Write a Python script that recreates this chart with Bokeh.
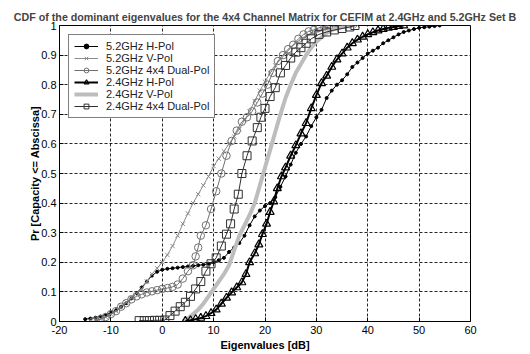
from bokeh.plotting import figure
from bokeh.embed import file_html
from bokeh.resources import INLINE
from bokeh.models import FixedTicker, Legend, LegendItem

# ---- data ----
h52_x = [-15, -14, -13, -12, -11, -10, -9, -8, -7, -6, -5, -4, -3, -2, -1, 0, 1, 2, 3, 4, 5, 6, 7, 8, 9, 10,
         11, 12, 13, 14, 15, 16, 17, 18, 19, 20, 21, 22, 23, 24, 25, 26, 27, 28, 29, 30, 31, 32, 33, 34, 35,
         36, 37, 38, 39, 40, 41, 42, 43, 44, 45, 46, 47, 48, 49, 50, 51, 52, 53, 54]
h52_y = [0.008, 0.01, 0.013, 0.017, 0.022, 0.03, 0.038, 0.05, 0.062, 0.078, 0.095, 0.115, 0.135, 0.155, 0.168,
         0.175, 0.178, 0.18, 0.182, 0.184, 0.186, 0.188, 0.19, 0.192, 0.195, 0.2, 0.207, 0.215, 0.235, 0.25,
         0.265, 0.29, 0.325, 0.355, 0.375, 0.39, 0.4, 0.42, 0.455, 0.49, 0.53, 0.57, 0.6, 0.625, 0.66, 0.69,
         0.715, 0.755, 0.78, 0.8, 0.815, 0.835, 0.86, 0.875, 0.89, 0.905, 0.915, 0.925, 0.94, 0.95, 0.96,
         0.97, 0.978, 0.983, 0.988, 0.992, 0.994, 0.996, 0.998, 1.0]

v52_x = [-13, -12, -11, -10, -9, -8, -7, -6, -5, -4, -3, -2, -1, 0, 1, 2, 3, 4, 5, 6, 7, 8, 9, 10, 11, 12,
         13, 14, 15, 16, 17, 18, 19, 20, 21, 22, 23, 24, 25, 26, 27, 28, 29, 30, 32, 34, 36, 38]
v52_y = [0.003, 0.008, 0.015, 0.025, 0.035, 0.05, 0.065, 0.08, 0.095, 0.11, 0.135, 0.16, 0.18, 0.2, 0.225,
         0.255, 0.29, 0.33, 0.365, 0.4, 0.43, 0.46, 0.49, 0.525, 0.55, 0.575, 0.6, 0.625, 0.65, 0.68, 0.71,
         0.745, 0.78, 0.81, 0.84, 0.865, 0.885, 0.905, 0.925, 0.94, 0.955, 0.965, 0.975, 0.982, 0.988,
         0.993, 0.997, 1.0]

d52_x = [-13.5, -13, -12, -11, -10, -9, -8, -7, -6, -5, -4, -3, -2, -1, 0, 1, 2, 3, 4, 5, 6, 6.5, 7, 7.5,
         8.5, 9.5, 10.5, 11.5, 12.5, 13.5, 14.5, 15.5, 16.5, 17.5, 18.5, 19.5, 20.5, 21.5, 22.5, 23.5,
         24.5, 25.5, 26.5, 27.5, 28.5, 29.5, 30.5, 31.5, 32.5]
d52_y = [0.0, 0.003, 0.008, 0.015, 0.025, 0.035, 0.05, 0.062, 0.075, 0.085, 0.092, 0.098, 0.102, 0.106,
         0.11, 0.113, 0.117, 0.125, 0.145, 0.17, 0.19, 0.22, 0.25, 0.29, 0.325, 0.38, 0.44, 0.5, 0.56,
         0.61, 0.645, 0.675, 0.69, 0.71, 0.74, 0.77, 0.8, 0.84, 0.88, 0.9, 0.92, 0.935, 0.955, 0.97,
         0.98, 0.985, 0.992, 0.997, 1.0]

h24_x = [4.5, 5.5, 6.5, 7.5, 8.5, 9.5, 10.5, 11.5, 12.5, 13.5, 14.5, 15.5, 16.3, 17, 18, 18.8, 19.5, 20.3,
         21, 21.7, 22.4, 23.2, 24, 25, 26, 27, 28, 29, 30, 31, 32, 33, 34, 35, 36, 37, 38, 39, 40, 41, 42,
         43, 44, 45, 46, 47]
h24_y = [0.002, 0.004, 0.008, 0.012, 0.018, 0.028, 0.04, 0.06, 0.08, 0.098, 0.115, 0.132, 0.16, 0.2, 0.23,
         0.26, 0.295, 0.33, 0.37, 0.405, 0.45, 0.49, 0.52, 0.56, 0.595, 0.635, 0.67, 0.72, 0.765, 0.805,
         0.83, 0.86, 0.885, 0.905, 0.925, 0.94, 0.952, 0.962, 0.97, 0.977, 0.983, 0.988, 0.992, 0.995,
         0.998, 1.0]

v24_x = [4, 5, 6, 7, 8, 9, 10, 11, 12, 13, 14, 15, 16, 17, 18, 19, 20, 21, 22, 23, 24, 25, 26, 27, 28, 29,
         30, 31, 32, 33, 34, 35, 37]
v24_y = [0.0, 0.01, 0.025, 0.04, 0.06, 0.085, 0.11, 0.135, 0.16, 0.19, 0.24, 0.29, 0.325, 0.36, 0.4, 0.46,
         0.52, 0.58, 0.64, 0.7, 0.755, 0.8, 0.84, 0.87, 0.9, 0.925, 0.945, 0.96, 0.975, 0.985, 0.99,
         0.995, 1.0]

d24_x = [-4.5, -3.5, -2.5, -1.5, -0.5, 0.5, 1.5, 2.5, 3.5, 4.5, 5.5, 6.5, 7.5, 8.5, 9.5, 10.5, 11.5, 12.5,
         13.3, 14, 14.8, 15.5, 16.5, 17.5, 18.5, 19.2, 20, 21, 22, 23, 24, 25, 26, 27, 28, 29, 30.5, 32,
         33.5, 35, 36.5, 37.5]
d24_y = [0.003, 0.003, 0.003, 0.004, 0.004, 0.005, 0.02, 0.035, 0.05, 0.065, 0.085, 0.11, 0.135, 0.17,
         0.195, 0.215, 0.255, 0.295, 0.33, 0.38, 0.43, 0.5, 0.56, 0.61, 0.655, 0.69, 0.72, 0.76, 0.79,
         0.84, 0.865, 0.89, 0.91, 0.925, 0.94, 0.955, 0.97, 0.978, 0.985, 0.99, 0.995, 1.0]

x_ticks = [-20, -10, 0, 10, 20, 30, 40, 50, 60]
x_tick_labels = ["-20", "-10", "0", "10", "20", "30", "40", "50", "60"]
y_ticks = [0, 0.1, 0.2, 0.3, 0.4, 0.5, 0.6, 0.7, 0.8, 0.9, 1]
y_tick_labels = ["0", "0.1", "0.2", "0.3", "0.4", "0.5", "0.6", "0.7", "0.8", "0.9", "1"]

FONT = "Liberation Sans"

p = figure(width=530, height=354, output_backend="svg", toolbar_location=None,
           x_range=(-20, 60), y_range=(0, 1),
           min_border_left=59, min_border_right=60, min_border_top=25, min_border_bottom=33)

p.title.text = "CDF of the dominant eigenvalues for the 4x4 Channel Matrix for CEFIM at 2.4GHz and 5.2GHz Set B"
p.title.text_font = FONT
p.title.text_font_size = "10.7px"
p.title.text_font_style = "bold"
p.title.align = "center"
p.title.standoff = 6
p.title.offset = 0

p.background_fill_color = "white"
p.border_fill_color = "white"
p.outline_line_color = "black"
p.outline_line_width = 1
p.outline_line_alpha = 1

for ax in (p.xaxis[0], p.yaxis[0]):
    ax.axis_line_color = "black"
    ax.major_tick_line_color = "black"
    ax.major_tick_in = 4
    ax.major_tick_out = 0
    ax.minor_tick_line_color = None
    ax.major_label_text_font = FONT
    ax.major_label_text_font_size = "11px"
    ax.major_label_text_color = "black"
    ax.axis_label_text_font = FONT
    ax.axis_label_text_font_size = "11px"
    ax.axis_label_text_font_style = "bold"
    ax.axis_label_text_color = "black"

p.xaxis.ticker = FixedTicker(ticks=x_ticks)
p.yaxis.ticker = FixedTicker(ticks=y_ticks)
p.xaxis.major_label_overrides = {t: l for t, l in zip(x_ticks, x_tick_labels)}
p.yaxis.major_label_overrides = {t: l for t, l in zip(y_ticks, y_tick_labels)}
p.xaxis.axis_label = "Eigenvalues [dB]"
p.yaxis.axis_label = "Pr [Capacity <= Abscissa]"
p.xaxis.major_label_standoff = 4
p.yaxis.major_label_standoff = 3
p.xaxis.axis_label_standoff = 2
p.yaxis.axis_label_standoff = -3

for g in (p.xgrid[0], p.ygrid[0]):
    g.grid_line_color = "black"
    g.grid_line_dash = "3 2"
    g.grid_line_width = 1
    g.grid_line_alpha = 0.85

# --- series ---
r1l = p.line(h52_x, h52_y, line_color="black", line_width=1)
r1m = p.scatter(h52_x, h52_y, marker="circle", size=3, fill_color="black", line_color="black")

r2l = p.line(v52_x, v52_y, line_color="#8c8c8c", line_width=1)
r2m = p.scatter(v52_x, v52_y, marker="x", size=6, line_color="#8c8c8c", line_width=1)

r3l = p.line(d52_x, d52_y, line_color="#707070", line_width=1)
r3m = p.scatter(d52_x, d52_y, marker="circle", size=7.5, fill_color=None, line_color="#707070", line_width=1)

r5l = p.line(v24_x, v24_y, line_color="#bdbdbd", line_width=4)

r4l = p.line(h24_x, h24_y, line_color="black", line_width=2)
r4m = p.scatter(h24_x, h24_y, marker="triangle", size=8, fill_color=None, line_color="black", line_width=1.2)

r6l = p.line(d24_x, d24_y, line_color="#303030", line_width=1)
r6m = p.scatter(d24_x, d24_y, marker="square", size=8, fill_color=None, line_color="#303030", line_width=1)

legend = Legend(items=[
    LegendItem(label="5.2GHz H-Pol", renderers=[r1l, r1m]),
    LegendItem(label="5.2GHz V-Pol", renderers=[r2l, r2m]),
    LegendItem(label="5.2GHz 4x4 Dual-Pol", renderers=[r3l, r3m]),
    LegendItem(label="2.4GHz H-Pol", renderers=[r4l, r4m]),
    LegendItem(label="2.4GHz V-Pol", renderers=[r5l]),
    LegendItem(label="2.4GHz 4x4 Dual-Pol", renderers=[r6l, r6m]),
], location="top_left")
legend.margin = 9
legend.padding = 5
legend.spacing = 0
legend.glyph_width = 24
legend.glyph_height = 12
legend.label_height = 12
legend.label_standoff = 8
legend.label_text_font = FONT
legend.label_text_font_size = "11px"
legend.label_text_color = "#222222"
legend.border_line_color = "black"
legend.border_line_width = 1
legend.background_fill_color = "white"
legend.background_fill_alpha = 1
p.add_layout(legend)

open("out.html", "w").write(file_html(p, INLINE))
